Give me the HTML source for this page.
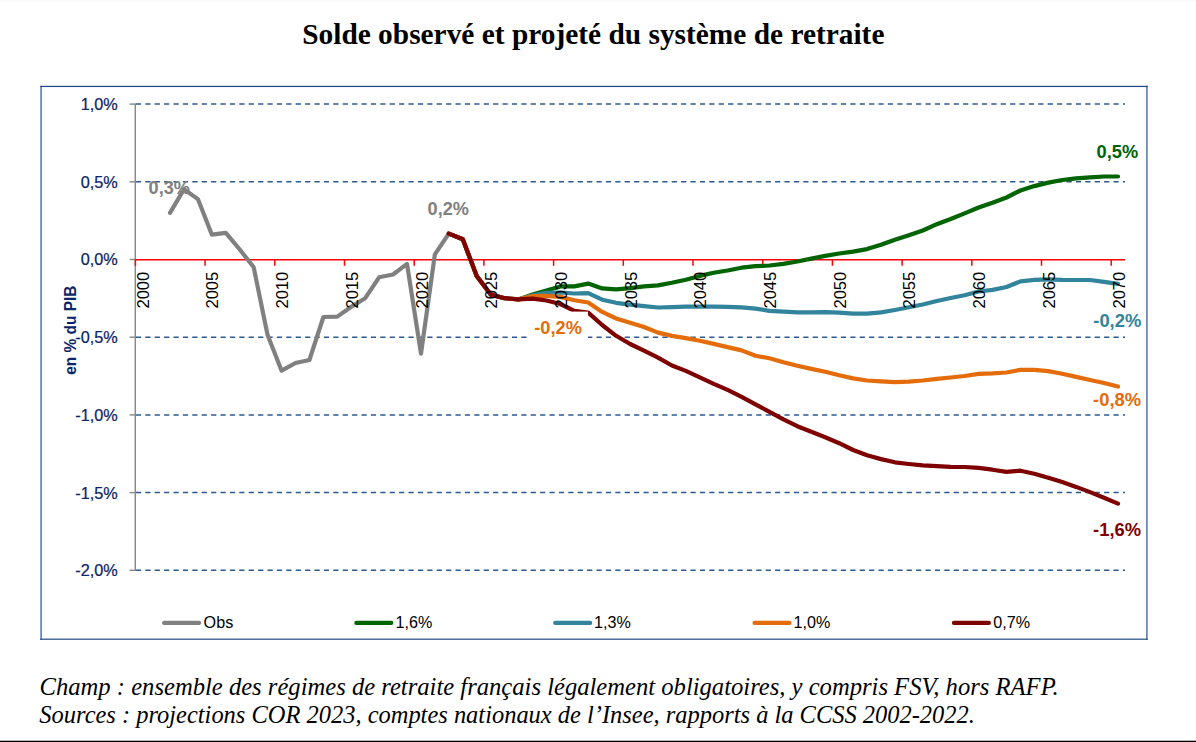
<!DOCTYPE html><html><head><meta charset="utf-8"><title>Solde observé et projeté du système de retraite</title>
<style>html,body{margin:0;padding:0;background:#fff;}body{width:1196px;height:742px;overflow:hidden;position:relative;}svg{position:absolute;left:0;top:0;display:block;}.sans{font-family:"Liberation Sans",sans-serif;}.serif{font-family:"Liberation Serif",serif;}</style></head><body>
<svg width="1196" height="742" viewBox="0 0 1196 742">
<rect x="0" y="0" width="1196" height="1.6" fill="#fafafa"/>
<text class="serif" transform="translate(302.2,44.0) scale(0.9795,1)" x="0" y="0" font-size="30" font-weight="bold" fill="#000">Solde observé et projeté du système de retraite</text>
<rect x="40.2" y="85.9" width="1.8" height="553.9" fill="#6e8bb3"/>
<rect x="1146" y="85.9" width="1.8" height="553.9" fill="#6e8bb3"/>
<rect x="40.2" y="85.8" width="1107.6" height="1.25" fill="#1f4a86"/>
<rect x="40.2" y="638.6" width="1107.6" height="1.2" fill="#1f4a86"/>
<line x1="135.9" y1="104.10" x2="1125" y2="104.10" stroke="#2d5a90" stroke-width="1.5" stroke-dasharray="5.2 4.2"/>
<line x1="135.9" y1="181.80" x2="1125" y2="181.80" stroke="#2d5a90" stroke-width="1.5" stroke-dasharray="5.2 4.2"/>
<line x1="135.9" y1="337.20" x2="1125" y2="337.20" stroke="#2d5a90" stroke-width="1.5" stroke-dasharray="5.2 4.2"/>
<line x1="135.9" y1="414.90" x2="1125" y2="414.90" stroke="#2d5a90" stroke-width="1.5" stroke-dasharray="5.2 4.2"/>
<line x1="135.9" y1="492.60" x2="1125" y2="492.60" stroke="#2d5a90" stroke-width="1.5" stroke-dasharray="5.2 4.2"/>
<line x1="135.9" y1="570.30" x2="1125" y2="570.30" stroke="#2d5a90" stroke-width="1.5" stroke-dasharray="5.2 4.2"/>
<line x1="135.3" y1="103.60" x2="135.3" y2="571.00" stroke="#878787" stroke-width="1.4"/>
<line x1="129.6" y1="104.10" x2="135.3" y2="104.10" stroke="#878787" stroke-width="1.4"/>
<line x1="129.6" y1="181.80" x2="135.3" y2="181.80" stroke="#878787" stroke-width="1.4"/>
<line x1="129.6" y1="259.50" x2="135.3" y2="259.50" stroke="#878787" stroke-width="1.4"/>
<line x1="129.6" y1="337.20" x2="135.3" y2="337.20" stroke="#878787" stroke-width="1.4"/>
<line x1="129.6" y1="414.90" x2="135.3" y2="414.90" stroke="#878787" stroke-width="1.4"/>
<line x1="129.6" y1="492.60" x2="135.3" y2="492.60" stroke="#878787" stroke-width="1.4"/>
<line x1="129.6" y1="570.30" x2="135.3" y2="570.30" stroke="#878787" stroke-width="1.4"/>
<line x1="135.3" y1="259.8" x2="1125" y2="259.8" stroke="#ff0000" stroke-width="1.5"/>
<line x1="135.40" y1="259.8" x2="135.40" y2="265.8" stroke="#ff0000" stroke-width="1.5"/>
<line x1="205.10" y1="259.8" x2="205.10" y2="265.8" stroke="#ff0000" stroke-width="1.5"/>
<line x1="274.80" y1="259.8" x2="274.80" y2="265.8" stroke="#ff0000" stroke-width="1.5"/>
<line x1="344.50" y1="259.8" x2="344.50" y2="265.8" stroke="#ff0000" stroke-width="1.5"/>
<line x1="414.20" y1="259.8" x2="414.20" y2="265.8" stroke="#ff0000" stroke-width="1.5"/>
<line x1="483.90" y1="259.8" x2="483.90" y2="265.8" stroke="#ff0000" stroke-width="1.5"/>
<line x1="553.60" y1="259.8" x2="553.60" y2="265.8" stroke="#ff0000" stroke-width="1.5"/>
<line x1="623.30" y1="259.8" x2="623.30" y2="265.8" stroke="#ff0000" stroke-width="1.5"/>
<line x1="693.00" y1="259.8" x2="693.00" y2="265.8" stroke="#ff0000" stroke-width="1.5"/>
<line x1="762.70" y1="259.8" x2="762.70" y2="265.8" stroke="#ff0000" stroke-width="1.5"/>
<line x1="832.40" y1="259.8" x2="832.40" y2="265.8" stroke="#ff0000" stroke-width="1.5"/>
<line x1="902.10" y1="259.8" x2="902.10" y2="265.8" stroke="#ff0000" stroke-width="1.5"/>
<line x1="971.80" y1="259.8" x2="971.80" y2="265.8" stroke="#ff0000" stroke-width="1.5"/>
<line x1="1041.50" y1="259.8" x2="1041.50" y2="265.8" stroke="#ff0000" stroke-width="1.5"/>
<line x1="1111.20" y1="259.8" x2="1111.20" y2="265.8" stroke="#ff0000" stroke-width="1.5"/>
<text class="sans" transform="translate(117.83,110.00) scale(0.957,1)" x="0" y="0" font-size="17" fill="#0b2568" stroke="#0b2568" stroke-width="0.25" text-anchor="end">1,0%</text>
<text class="sans" transform="translate(117.83,187.70) scale(0.957,1)" x="0" y="0" font-size="17" fill="#0b2568" stroke="#0b2568" stroke-width="0.25" text-anchor="end">0,5%</text>
<text class="sans" transform="translate(117.83,265.40) scale(0.957,1)" x="0" y="0" font-size="17" fill="#0b2568" stroke="#0b2568" stroke-width="0.25" text-anchor="end">0,0%</text>
<text class="sans" transform="translate(117.83,343.10) scale(0.957,1)" x="0" y="0" font-size="17" fill="#0b2568" stroke="#0b2568" stroke-width="0.25" text-anchor="end">-0,5%</text>
<text class="sans" transform="translate(117.83,420.80) scale(0.957,1)" x="0" y="0" font-size="17" fill="#0b2568" stroke="#0b2568" stroke-width="0.25" text-anchor="end">-1,0%</text>
<text class="sans" transform="translate(117.83,498.50) scale(0.957,1)" x="0" y="0" font-size="17" fill="#0b2568" stroke="#0b2568" stroke-width="0.25" text-anchor="end">-1,5%</text>
<text class="sans" transform="translate(117.83,576.20) scale(0.957,1)" x="0" y="0" font-size="17" fill="#0b2568" stroke="#0b2568" stroke-width="0.25" text-anchor="end">-2,0%</text>
<text class="sans" transform="translate(75.9,374.75) rotate(-90) scale(0.909,1)" x="0" y="0" font-size="17" font-weight="bold" fill="#0b2568">en % du PIB</text>
<polyline points="170.0,212.9 184.0,189.3 197.9,199.1 211.9,234.7 225.8,232.8 239.8,249.5 253.7,267.3 267.6,335.1 281.6,370.7 295.5,363.0 309.4,360.0 323.4,317.0 337.3,316.6 351.3,306.8 365.2,298.2 379.1,277.3 393.1,274.5 407.0,263.9 421.0,353.6 434.9,254.3 448.8,233.6" fill="none" stroke="#808080" stroke-width="4.2" stroke-linejoin="round" stroke-linecap="round"/>
<polyline points="448.8,233.6 462.8,239.3 476.7,276.0 490.7,294.6 504.6,298.2 518.5,299.4 532.5,294.5 546.4,290.5 560.4,286.4 574.3,286.4 588.2,283.6 602.2,288.4 616.1,289.4 630.1,288.2 644.0,286.4 658.0,285.4 671.9,282.8 685.8,279.8 699.8,275.9 713.7,272.7 727.6,270.5 741.6,267.7 755.5,266.2 769.5,265.5 783.4,263.9 797.3,261.5 811.3,258.6 825.2,255.9 839.2,253.5 853.1,251.6 867.0,249.1 881.0,244.8 894.9,239.7 908.9,235.3 922.8,230.5 936.8,224.2 950.7,219.0 964.6,213.4 978.6,207.5 992.5,202.7 1006.5,197.5 1020.4,190.5 1034.3,186.1 1048.3,182.6 1062.2,180.0 1076.1,178.4 1090.1,177.3 1104.0,176.5 1118.0,176.5" fill="none" stroke="#006400" stroke-width="4.2" stroke-linejoin="round" stroke-linecap="round"/>
<polyline points="448.8,233.6 462.8,239.3 476.7,276.0 490.7,294.6 504.6,298.2 518.5,299.4 532.5,295.2 546.4,292.8 560.4,292.5 574.3,293.5 588.2,293.1 602.2,299.7 616.1,302.8 630.1,304.6 644.0,306.2 658.0,307.5 671.9,307.2 685.8,306.6 699.8,306.6 713.7,306.6 727.6,306.8 741.6,307.4 755.5,308.7 769.5,310.8 783.4,311.6 797.3,312.4 811.3,312.4 825.2,312.1 839.2,312.7 853.1,313.7 867.0,313.7 881.0,312.4 894.9,310.0 908.9,307.3 922.8,304.5 936.8,301.0 950.7,298.0 964.6,295.3 978.6,291.5 992.5,289.9 1006.5,287.0 1020.4,281.4 1034.3,279.9 1048.3,279.4 1062.2,279.9 1076.1,280.0 1090.1,280.0 1104.0,281.9 1118.0,283.8" fill="none" stroke="#31849b" stroke-width="4.2" stroke-linejoin="round" stroke-linecap="round"/>
<polyline points="448.8,233.6 462.8,239.3 476.7,276.0 490.7,294.6 504.6,298.2 518.5,299.4 532.5,296.0 546.4,295.8 560.4,296.9 574.3,300.3 588.2,302.5 602.2,311.9 616.1,318.5 630.1,322.8 644.0,327.0 658.0,332.6 671.9,335.9 685.8,338.1 699.8,340.7 713.7,343.9 727.6,347.1 741.6,350.4 755.5,355.8 769.5,358.3 783.4,362.2 797.3,365.7 811.3,368.9 825.2,371.8 839.2,375.3 853.1,378.4 867.0,380.5 881.0,381.3 894.9,382.1 908.9,381.6 922.8,380.5 936.8,378.9 950.7,377.5 964.6,376.0 978.6,373.9 992.5,373.4 1006.5,372.5 1020.4,369.9 1034.3,369.9 1048.3,371.1 1062.2,373.7 1076.1,376.9 1090.1,380.0 1104.0,383.0 1118.0,386.5" fill="none" stroke="#e46c0a" stroke-width="4.2" stroke-linejoin="round" stroke-linecap="round"/>
<polyline points="448.8,233.6 462.8,239.3 476.7,276.0 490.7,294.6 504.6,298.2 518.5,299.4 532.5,298.6 546.4,300.5 560.4,304.0 574.3,310.8 588.2,312.6 602.2,325.0 616.1,335.8 630.1,344.0 644.0,350.7 658.0,357.6 671.9,365.5 685.8,370.9 699.8,377.3 713.7,383.8 727.6,389.9 741.6,396.8 755.5,404.3 769.5,411.9 783.4,419.4 797.3,426.2 811.3,431.8 825.2,437.3 839.2,443.2 853.1,450.0 867.0,455.3 881.0,459.1 894.9,462.3 908.9,464.0 922.8,465.4 936.8,466.1 950.7,466.8 964.6,467.0 978.6,467.9 992.5,469.7 1006.5,471.9 1020.4,470.7 1034.3,473.7 1048.3,477.7 1062.2,482.1 1076.1,486.9 1090.1,492.1 1104.0,497.8 1118.0,503.6" fill="none" stroke="#7f0000" stroke-width="4.2" stroke-linejoin="round" stroke-linecap="round"/>
<text class="sans" transform="translate(148.70,308.6) rotate(-90) scale(0.978,1)" x="0" y="0" font-size="17" fill="#000">2000</text>
<text class="sans" transform="translate(218.40,308.6) rotate(-90) scale(0.978,1)" x="0" y="0" font-size="17" fill="#000">2005</text>
<text class="sans" transform="translate(288.10,308.6) rotate(-90) scale(0.978,1)" x="0" y="0" font-size="17" fill="#000">2010</text>
<text class="sans" transform="translate(357.80,308.6) rotate(-90) scale(0.978,1)" x="0" y="0" font-size="17" fill="#000">2015</text>
<text class="sans" transform="translate(427.50,308.6) rotate(-90) scale(0.978,1)" x="0" y="0" font-size="17" fill="#000">2020</text>
<text class="sans" transform="translate(497.20,308.6) rotate(-90) scale(0.978,1)" x="0" y="0" font-size="17" fill="#000">2025</text>
<text class="sans" transform="translate(566.90,308.6) rotate(-90) scale(0.978,1)" x="0" y="0" font-size="17" fill="#000">2030</text>
<text class="sans" transform="translate(636.60,308.6) rotate(-90) scale(0.978,1)" x="0" y="0" font-size="17" fill="#000">2035</text>
<text class="sans" transform="translate(706.30,308.6) rotate(-90) scale(0.978,1)" x="0" y="0" font-size="17" fill="#000">2040</text>
<text class="sans" transform="translate(776.00,308.6) rotate(-90) scale(0.978,1)" x="0" y="0" font-size="17" fill="#000">2045</text>
<text class="sans" transform="translate(845.70,308.6) rotate(-90) scale(0.978,1)" x="0" y="0" font-size="17" fill="#000">2050</text>
<text class="sans" transform="translate(915.40,308.6) rotate(-90) scale(0.978,1)" x="0" y="0" font-size="17" fill="#000">2055</text>
<text class="sans" transform="translate(985.10,308.6) rotate(-90) scale(0.978,1)" x="0" y="0" font-size="17" fill="#000">2060</text>
<text class="sans" transform="translate(1054.80,308.6) rotate(-90) scale(0.978,1)" x="0" y="0" font-size="17" fill="#000">2065</text>
<text class="sans" transform="translate(1124.50,308.6) rotate(-90) scale(0.978,1)" x="0" y="0" font-size="17" fill="#000">2070</text>
<text class="sans" transform="translate(148.58,193.80) scale(0.955,1)" x="0" y="0" font-size="19" font-weight="bold" fill="#808080">0,3%</text>
<text class="sans" transform="translate(427.58,215.10) scale(0.956,1)" x="0" y="0" font-size="19" font-weight="bold" fill="#808080">0,2%</text>
<rect x="527" y="311.6" width="61" height="31" fill="#fff"/>
<text class="sans" transform="translate(534.28,333.70) scale(0.959,1)" x="0" y="0" font-size="19" font-weight="bold" fill="#e46c0a">-0,2%</text>
<text class="sans" transform="translate(1096.58,158.10) scale(0.961,1)" x="0" y="0" font-size="19" font-weight="bold" fill="#006400">0,5%</text>
<text class="sans" transform="translate(1093.27,327.10) scale(0.967,1)" x="0" y="0" font-size="19" font-weight="bold" fill="#31849b">-0,2%</text>
<text class="sans" transform="translate(1093.07,406.00) scale(0.967,1)" x="0" y="0" font-size="19" font-weight="bold" fill="#e46c0a">-0,8%</text>
<text class="sans" transform="translate(1093.07,535.80) scale(0.967,1)" x="0" y="0" font-size="19" font-weight="bold" fill="#7f0000">-1,6%</text>
<line x1="164.1" y1="622.9" x2="199.1" y2="622.9" stroke="#808080" stroke-width="4.1" stroke-linecap="round"/>
<text class="sans" transform="translate(203.59,627.8) scale(0.95,1)" x="0" y="0" font-size="17" fill="#000">Obs</text>
<line x1="356.3" y1="622.9" x2="391.3" y2="622.9" stroke="#006400" stroke-width="4.1" stroke-linecap="round"/>
<text class="sans" transform="translate(395.51,627.8) scale(0.95,1)" x="0" y="0" font-size="17" fill="#000">1,6%</text>
<line x1="555.2" y1="622.9" x2="590.2" y2="622.9" stroke="#31849b" stroke-width="4.1" stroke-linecap="round"/>
<text class="sans" transform="translate(594.11,627.8) scale(0.95,1)" x="0" y="0" font-size="17" fill="#000">1,3%</text>
<line x1="754.5" y1="622.9" x2="789.5" y2="622.9" stroke="#e46c0a" stroke-width="4.1" stroke-linecap="round"/>
<text class="sans" transform="translate(793.51,627.8) scale(0.95,1)" x="0" y="0" font-size="17" fill="#000">1,0%</text>
<line x1="953.9" y1="622.9" x2="988.9" y2="622.9" stroke="#7f0000" stroke-width="4.1" stroke-linecap="round"/>
<text class="sans" transform="translate(993.32,627.8) scale(0.95,1)" x="0" y="0" font-size="17" fill="#000">0,7%</text>
<text class="serif" transform="translate(39.57,695.0) scale(0.985,1)" x="0" y="0" font-size="25" font-style="italic" fill="#000">Champ : ensemble des régimes de retraite français légalement obligatoires, y compris FSV, hors RAFP.</text>
<text class="serif" transform="translate(39.35,723.1) scale(0.979,1)" x="0" y="0" font-size="25" font-style="italic" fill="#000">Sources : projections COR 2023, comptes nationaux de l’Insee, rapports à la CCSS 2002-2022.</text>
<rect x="0" y="740.7" width="1196" height="1.3" fill="#000"/>
</svg></body></html>
